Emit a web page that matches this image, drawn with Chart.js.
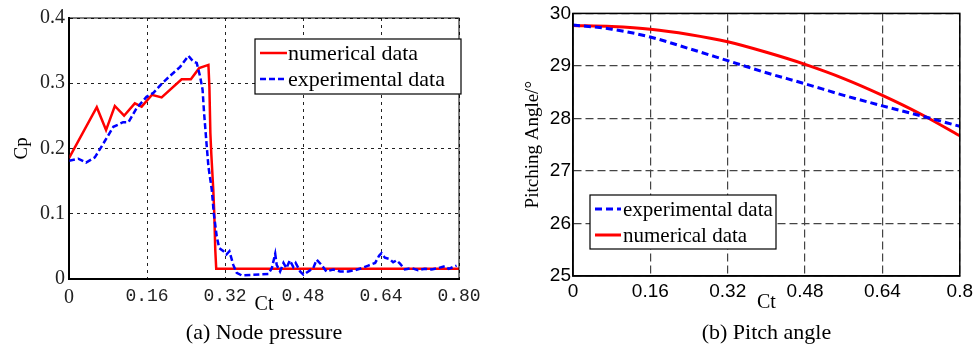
<!DOCTYPE html>
<html>
<head>
<meta charset="utf-8">
<script src="https://cdn.jsdelivr.net/npm/chart.js@4.4.1/dist/chart.umd.min.js"></script>
<style>
    body { margin: 0; background: #fff; overflow: hidden; }
    canvas { position: absolute; top: 0; }
    #node-chart { left: 0; }
    #pitch-chart { left: 500px; }
</style>
</head>
<body>
<canvas id="node-chart" width="490" height="350"></canvas>
<canvas id="pitch-chart" width="477" height="350"></canvas>
<script>
// (a) node pressure, Cp against Ct
const nodeNumCt = [0, 0.057, 0.076, 0.094, 0.113, 0.135, 0.149, 0.170, 0.190, 0.231, 0.250, 0.267, 0.286,
    0.288, 0.290, 0.292, 0.296, 0.298, 0.300, 0.302, 0.8];
const nodeNumCp = [0.185, 0.263, 0.228, 0.265, 0.250, 0.269, 0.264, 0.282, 0.278, 0.306, 0.306, 0.323, 0.328,
    0.294, 0.223, 0.190, 0.136, 0.100, 0.045, 0.015, 0.015];
const nodeExpCt = [0, 0.019, 0.035, 0.053, 0.067, 0.091, 0.111, 0.122, 0.139, 0.159, 0.173, 0.190, 0.207,
    0.228, 0.245, 0.255, 0.262, 0.269, 0.274, 0.277, 0.282, 0.286, 0.293, 0.297, 0.303, 0.308, 0.317, 0.323,
    0.329, 0.337, 0.344, 0.354, 0.409, 0.416, 0.423, 0.426, 0.433, 0.440, 0.446, 0.453, 0.460, 0.465, 0.474,
    0.481, 0.491, 0.501, 0.508, 0.518, 0.528, 0.542, 0.556, 0.573, 0.587, 0.600, 0.614, 0.628, 0.636, 0.641,
    0.648, 0.658, 0.665, 0.672, 0.679, 0.689, 0.703, 0.716, 0.730, 0.744, 0.757, 0.771, 0.779, 0.795];
const nodeExpCp = [0.181, 0.184, 0.178, 0.186, 0.203, 0.233, 0.240, 0.240, 0.262, 0.279, 0.285, 0.299, 0.311,
    0.325, 0.342, 0.333, 0.331, 0.310, 0.290, 0.255, 0.208, 0.172, 0.136, 0.100, 0.065, 0.047, 0.042, 0.037,
    0.042, 0.021, 0.009, 0.005, 0.007, 0.016, 0.038, 0.021, 0.011, 0.024, 0.016, 0.028, 0.018, 0.024, 0.011,
    0.006, 0.011, 0.016, 0.029, 0.021, 0.011, 0.014, 0.011, 0.011, 0.013, 0.016, 0.020, 0.024, 0.035, 0.039,
    0.032, 0.030, 0.025, 0.028, 0.023, 0.014, 0.016, 0.013, 0.015, 0.014, 0.016, 0.019, 0.015, 0.020];
const nodeTickValues = [0, 0.16, 0.32, 0.48, 0.64, 0.8];
const nodeTickLabels = ['0', '0.16', '0.32', '0.48', '0.64', '0.80'];

// (b) pitch angle against Ct
const pitchCt = [0, 0.08, 0.16, 0.24, 0.32, 0.40, 0.48, 0.56, 0.64, 0.72, 0.8];
const pitchExp = [29.78, 29.70, 29.55, 29.33, 29.10, 28.87, 28.66, 28.44, 28.24, 28.05, 27.85];
const pitchNum = [29.77, 29.75, 29.70, 29.60, 29.46, 29.26, 29.03, 28.76, 28.44, 28.08, 27.67];
const pitchTickValues = [0, 0.16, 0.32, 0.48, 0.64, 0.8];
const pitchTickLabels = ['0', '0.16', '0.32', '0.48', '0.64', '0.8'];

const serif = "'Liberation Serif', 'Times New Roman', serif";
const mono = "'Liberation Mono', 'Courier New', monospace";
const sans = "'Liberation Sans', Arial, sans-serif";

function points(xs, ys) {
    return xs.map((x, i) => ({x: x, y: ys[i]}));
}

// box round the plot area, like a matlab axes
const frame = {
    id: 'frame',
    afterDatasetsDraw(chart, args, opts) {
        const {ctx, chartArea: a} = chart;
        ctx.save();
        ctx.strokeStyle = opts.color;
        ctx.lineWidth = opts.width;
        ctx.strokeRect(a.left, a.top, a.right - a.left, a.bottom - a.top);
        ctx.restore();
    }
};

// legend box that sits inside the plot
const boxLegend = {
    id: 'boxLegend',
    afterDraw(chart, args, opts) {
        const ctx = chart.ctx;
        ctx.save();
        ctx.fillStyle = '#fff';
        ctx.fillRect(opts.x, opts.y, opts.w, opts.h);
        ctx.strokeStyle = '#000';
        ctx.lineWidth = 1.2;
        ctx.setLineDash([]);
        ctx.strokeRect(opts.x, opts.y, opts.w, opts.h);
        chart.data.datasets.forEach((ds, i) => {
            const y = opts.y + opts.rows[i];
            ctx.strokeStyle = ds.borderColor;
            ctx.lineWidth = ds.borderWidth;
            ctx.setLineDash(ds.borderDash || []);
            ctx.beginPath();
            ctx.moveTo(opts.x + opts.lineX, y);
            ctx.lineTo(opts.x + opts.lineX + opts.lineLen, y);
            ctx.stroke();
            ctx.fillStyle = '#000';
            ctx.font = opts.font;
            ctx.textBaseline = 'middle';
            ctx.fillText(ds.label, opts.x + opts.textX, y + 1);
        });
        ctx.restore();
    }
};

new Chart(document.querySelector('#node-chart').getContext('2d'), {
    type: 'line',
    data: {
        datasets: [{
            label: 'numerical data',
            data: points(nodeNumCt, nodeNumCp),
            borderColor: '#ff0000',
            borderWidth: 2.5,
            pointRadius: 0,
            order: 1
        }, {
            label: 'experimental data',
            data: points(nodeExpCt, nodeExpCp),
            borderColor: '#0000ff',
            borderWidth: 2.5,
            borderDash: [6, 3],
            pointRadius: 0,
            order: 0
        }]
    },
    options: {
        responsive: false,
        animation: false,
        layout: {padding: {top: 18, right: 31, left: 0, bottom: 0}},
        scales: {
            x: {
                type: 'linear',
                min: 0,
                max: 0.8,
                afterBuildTicks: scale => { scale.ticks = nodeTickValues.map(v => ({value: v})); },
                afterFit: scale => { scale.height = 39; },
                ticks: {
                    callback: (value, index) => nodeTickLabels[index],
                    padding: 7,
                    maxRotation: 0,
                    color: '#222',
                    font: c => c.index === 0 ? {family: serif, size: 20} : {family: mono, size: 18}
                },
                grid: {color: '#222', drawTicks: false},
                border: {color: '#000', width: 2, dash: [3, 4]},
                title: {display: true, text: 'Ct', color: '#000', font: {family: serif, size: 20},
                    padding: {top: 0, bottom: 1}}
            },
            y: {
                min: 0,
                max: 0.4,
                afterFit: scale => { scale.width = 69; },
                ticks: {stepSize: 0.1, padding: 4, color: '#222', font: {family: serif, size: 20}},
                grid: {color: '#222', drawTicks: false},
                border: {color: '#000', width: 2, dash: [3, 4]},
                title: {display: true, text: 'Cp', color: '#000', font: {family: serif, size: 19},
                    padding: {top: 11, bottom: 0}}
            }
        },
        plugins: {
            legend: {display: false},
            tooltip: {enabled: false},
            title: {
                display: true,
                text: '(a) Node pressure',
                position: 'bottom',
                fullSize: false,
                color: '#000',
                font: {family: serif, size: 22, weight: 'normal'},
                padding: {top: 2, bottom: 4}
            },
            frame: {color: '#000', width: 1},
            boxLegend: {x: 255, y: 39, w: 206, h: 55, rows: [14, 40], lineX: 5, lineLen: 27, textX: 33,
                font: '22px ' + serif}
        }
    },
    plugins: [frame, boxLegend]
});

new Chart(document.querySelector('#pitch-chart').getContext('2d'), {
    type: 'line',
    data: {
        datasets: [{
            label: 'experimental data',
            data: points(pitchCt, pitchExp),
            borderColor: '#0000ff',
            borderWidth: 3,
            borderDash: [7, 4],
            pointRadius: 0,
            tension: 0.4,
            cubicInterpolationMode: 'monotone'
        }, {
            label: 'numerical data',
            data: points(pitchCt, pitchNum),
            borderColor: '#ff0000',
            borderWidth: 3,
            pointRadius: 0,
            tension: 0.4,
            cubicInterpolationMode: 'monotone'
        }]
    },
    options: {
        responsive: false,
        animation: false,
        layout: {padding: {top: 11, right: 14, left: 0, bottom: 0}},
        scales: {
            x: {
                type: 'linear',
                min: 0,
                max: 0.8,
                afterBuildTicks: scale => { scale.ticks = pitchTickValues.map(v => ({value: v})); },
                afterFit: scale => { scale.height = 41.6; },
                ticks: {
                    callback: (value, index) => pitchTickLabels[index],
                    padding: 4,
                    maxRotation: 0,
                    color: '#000',
                    font: {family: sans, size: 19}
                },
                grid: {color: '#444', lineWidth: 1.2, drawTicks: false},
                border: {color: '#000', width: 1.5, dash: [8, 4]},
                title: {display: true, text: 'Ct', color: '#000', font: {family: serif, size: 20},
                    padding: {top: 0, bottom: 2.6}}
            },
            y: {
                min: 25,
                max: 30,
                afterFit: scale => { scale.width = 73; },
                ticks: {stepSize: 1, padding: 2, color: '#000', font: {family: sans, size: 19}},
                grid: {color: '#444', lineWidth: 1.2, drawTicks: false},
                border: {color: '#000', width: 1.5, dash: [8, 4]},
                title: {display: true, text: 'Pitching Angle/°', color: '#000', font: {family: serif, size: 19},
                    padding: {top: 21.6, bottom: 0}}
            }
        },
        plugins: {
            legend: {display: false},
            tooltip: {enabled: false},
            title: {
                display: true,
                text: '(b) Pitch angle',
                position: 'bottom',
                fullSize: false,
                color: '#000',
                font: {family: serif, size: 22, weight: 'normal'},
                padding: {top: 2, bottom: 4}
            },
            frame: {color: '#000', width: 1.5},
            boxLegend: {x: 90, y: 195, w: 186, h: 54, rows: [14, 40], lineX: 5, lineLen: 26, textX: 33,
                font: '21px ' + serif}
        }
    },
    plugins: [frame, boxLegend]
});
</script>
</body>
</html>
